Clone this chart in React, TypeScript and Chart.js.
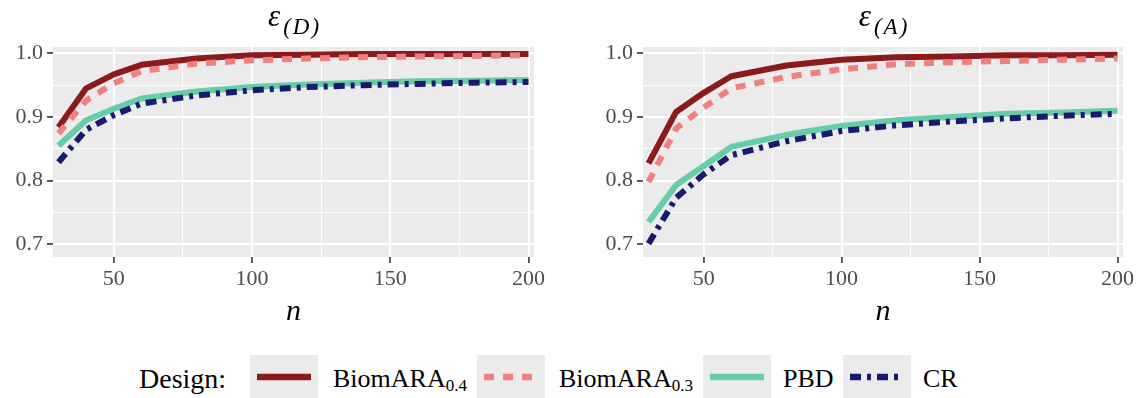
import React, { useEffect, useRef } from 'react';
import { Chart, registerables } from 'chart.js';

Chart.register(...registerables);

// ---------- data ----------
const nValues = [30, 40, 50, 60, 80, 100, 120, 140, 160, 180, 200];

const effD_BiomARA04 = [0.884, 0.945, 0.967, 0.982, 0.992, 0.997, 0.998, 0.999, 0.999, 0.999, 0.999];
const effD_BiomARA03 = [0.874, 0.926, 0.953, 0.972, 0.984, 0.989, 0.992, 0.994, 0.995, 0.996, 0.997];
const effD_PBD = [0.855, 0.895, 0.913, 0.929, 0.940, 0.947, 0.951, 0.954, 0.956, 0.957, 0.958];
const effD_CR = [0.829, 0.880, 0.903, 0.921, 0.934, 0.942, 0.947, 0.950, 0.952, 0.954, 0.955];

const effA_BiomARA04 = [0.827, 0.908, 0.938, 0.964, 0.981, 0.990, 0.994, 0.995, 0.997, 0.997, 0.998];
const effA_BiomARA03 = [0.798, 0.882, 0.915, 0.945, 0.963, 0.975, 0.983, 0.986, 0.988, 0.990, 0.992];
const effA_PBD = [0.735, 0.793, 0.823, 0.853, 0.872, 0.886, 0.895, 0.900, 0.905, 0.907, 0.910];
const effA_CR = [0.701, 0.773, 0.810, 0.840, 0.862, 0.878, 0.887, 0.893, 0.898, 0.902, 0.905];

const xTickValues = [50, 75, 100, 125, 150, 175, 200];
const yTickValues = [0.7, 0.75, 0.8, 0.85, 0.9, 0.95, 1.0];

const designLabels = ['BiomARA', 'BiomARA', 'PBD', 'CR'];
const designSubs = ['0.4', '0.3', '', ''];
const designColors = ['#8B1A1A', '#F08080', '#66CDAA', '#191970'];
const designDashes: number[][] = [[], [10, 9], [], [11, 6, 4, 6]];

// ---------- styles ----------
const SERIF = "'Liberation Serif', 'Times New Roman', serif";

type PanelProps = {
  left: number;
  width: number;
  axisWidth: number;
  padRight: number;
  sub: string;
  series: number[][];
};

function Panel({ left, width, axisWidth, padRight, sub, series }: PanelProps) {
  const ref = useRef<HTMLCanvasElement | null>(null);
  useEffect(() => {
    if (!ref.current) return;
    const bgPlugin = {
      id: 'panelBg',
      beforeDraw(chart: any) {
        const { ctx, chartArea: a } = chart;
        ctx.save();
        ctx.fillStyle = '#EBEBEB';
        ctx.fillRect(a.left, a.top, a.right - a.left, a.bottom - a.top);
        ctx.restore();
      },
    };
    const titlePlugin = {
      id: 'panelTitle',
      afterDraw(chart: any) {
        const { ctx, chartArea: a } = chart;
        const cx = (a.left + a.right) / 2;
        ctx.save();
        ctx.fillStyle = '#000';
        ctx.textBaseline = 'alphabetic';
        ctx.textAlign = 'left';
        const mainFont = `italic 31px ${SERIF}`;
        const subFont = `italic 23px ${SERIF}`;
        ctx.font = mainFont;
        const wE = ctx.measureText('\u03B5').width;
        ctx.font = subFont;
        const parts = ['(', sub, ')'];
        const gaps = 2;
        const wParts = parts.map((p) => ctx.measureText(p).width);
        const wSub = wParts.reduce((s, v) => s + v, 0) + gaps * 2;
        const total = wE + 3 + wSub;
        let x = cx - total / 2;
        ctx.font = mainFont;
        ctx.fillText('\u03B5', x, 26);
        x += wE + 3;
        ctx.font = subFont;
        parts.forEach((p, i) => {
          ctx.fillText(p, x, 34);
          x += wParts[i] + gaps;
        });
        ctx.restore();
      },
    };
    const chart = new Chart(ref.current, {
      type: 'line',
      data: {
        labels: nValues,
        datasets: series.map((vals, i) => ({
          label: designLabels[i] + designSubs[i],
          data: nValues.map((n, j) => ({ x: n, y: vals[j] })),
          borderColor: designColors[i],
          backgroundColor: designColors[i],
          borderWidth: 6,
          borderDash: designDashes[i],
          borderCapStyle: 'butt',
          borderJoinStyle: 'round',
          pointRadius: 0,
          tension: 0,
          fill: false,
          order: 4 - i,
        })),
      },
      options: {
        animation: false,
        responsive: false,
        maintainAspectRatio: false,
        layout: { padding: { top: 47, right: padRight, left: 0, bottom: 0 } },
        plugins: { legend: { display: false }, tooltip: { enabled: false }, title: { display: false } },
        scales: {
          x: {
            type: 'linear',
            min: 28,
            max: 202,
            afterBuildTicks: (scale: any) => {
              scale.ticks = xTickValues.map((v) => ({ value: v }));
            },
            afterFit: (scale: any) => {
              scale.height = 83;
            },
            border: { display: false },
            grid: {
              color: '#FFFFFF',
              lineWidth: (c: any) => (c.tick && c.tick.value % 50 === 0 ? 1.9 : 0.9),
              tickColor: (c: any) => (c.tick && c.tick.value % 50 === 0 ? '#333333' : 'rgba(0,0,0,0)'),
              tickWidth: 1.6,
              tickLength: 6,
              drawTicks: true,
            },
            ticks: {
              autoSkip: false,
              maxRotation: 0,
              padding: 3,
              color: '#4D4D4D',
              font: { family: SERIF, size: 22 },
              callback: (v: any) => (Number(v) % 50 === 0 ? String(v) : ''),
            },
            title: {
              display: true,
              text: 'n',
              color: '#000',
              font: { family: SERIF, size: 30, style: 'italic' },
              padding: { top: 0, bottom: 10 },
            },
          },
          y: {
            type: 'linear',
            min: 0.68,
            max: 1.01,
            afterBuildTicks: (scale: any) => {
              scale.ticks = yTickValues.map((v) => ({ value: v }));
            },
            afterFit: (scale: any) => {
              scale.width = axisWidth;
            },
            border: { display: false },
            grid: {
              color: '#FFFFFF',
              lineWidth: (c: any) => (c.tick && Math.round(c.tick.value * 100) % 10 === 0 ? 1.9 : 0.9),
              tickColor: (c: any) =>
                c.tick && Math.round(c.tick.value * 100) % 10 === 0 ? '#333333' : 'rgba(0,0,0,0)',
              tickWidth: 1.6,
              tickLength: 6,
              drawTicks: true,
            },
            ticks: {
              autoSkip: false,
              padding: 4,
              color: '#4D4D4D',
              font: { family: SERIF, size: 22 },
              callback: (v: any) => (Math.round(Number(v) * 100) % 10 === 0 ? Number(v).toFixed(1) : ''),
            },
          },
        },
      },
      plugins: [bgPlugin, titlePlugin],
    } as any);
    return () => chart.destroy();
  }, []);
  return (
    <canvas
      ref={ref}
      width={width}
      height={340}
      style={{ position: 'absolute', left, top: 0, width, height: 340 }}
    />
  );
}

const boxLefts = [250, 477, 703, 843];
const textLefts = [333, 559, 783, 923];

function Legend() {
  return (
    <>
      <div
        style={{
          position: 'absolute',
          left: 139,
          top: 357,
          height: 43,
          lineHeight: '43px',
          fontFamily: SERIF,
          fontSize: 28,
          color: '#000',
          whiteSpace: 'nowrap',
        }}
      >
        Design:
      </div>
      {designLabels.map((lab, i) => (
        <React.Fragment key={i}>
          <div
            style={{
              position: 'absolute',
              left: boxLefts[i],
              top: 355,
              width: 68,
              height: 43,
              background: '#EBEBEB',
            }}
          >
            <svg width={68} height={43} style={{ display: 'block' }}>
              <line
                x1={7}
                x2={61}
                y1={22}
                y2={22}
                stroke={designColors[i]}
                strokeWidth={6.5}
                strokeDasharray={designDashes[i].length ? designDashes[i].join(' ') : undefined}
              />
            </svg>
          </div>
          <div
            style={{
              position: 'absolute',
              left: textLefts[i],
              top: 357,
              height: 43,
              lineHeight: '43px',
              fontFamily: SERIF,
              fontSize: 26,
              color: '#000',
              whiteSpace: 'nowrap',
            }}
          >
            {lab}
            {designSubs[i] ? (
              <span style={{ fontSize: 17, position: 'relative', top: 4 }}>{designSubs[i]}</span>
            ) : null}
          </div>
        </React.Fragment>
      ))}
    </>
  );
}

export default function App() {
  useEffect(() => {
    document.body.style.margin = '0';
  }, []);
  return (
    <div style={{ position: 'relative', width: 1139, height: 398, overflow: 'hidden', background: '#fff' }}>
      <Panel
        left={0}
        width={570}
        axisWidth={53}
        padRight={36}
        sub="D"
        series={[effD_BiomARA04, effD_BiomARA03, effD_PBD, effD_CR]}
      />
      <Panel
        left={570}
        width={569}
        axisWidth={73}
        padRight={16}
        sub="A"
        series={[effA_BiomARA04, effA_BiomARA03, effA_PBD, effA_CR]}
      />
      <Legend />
    </div>
  );
}
